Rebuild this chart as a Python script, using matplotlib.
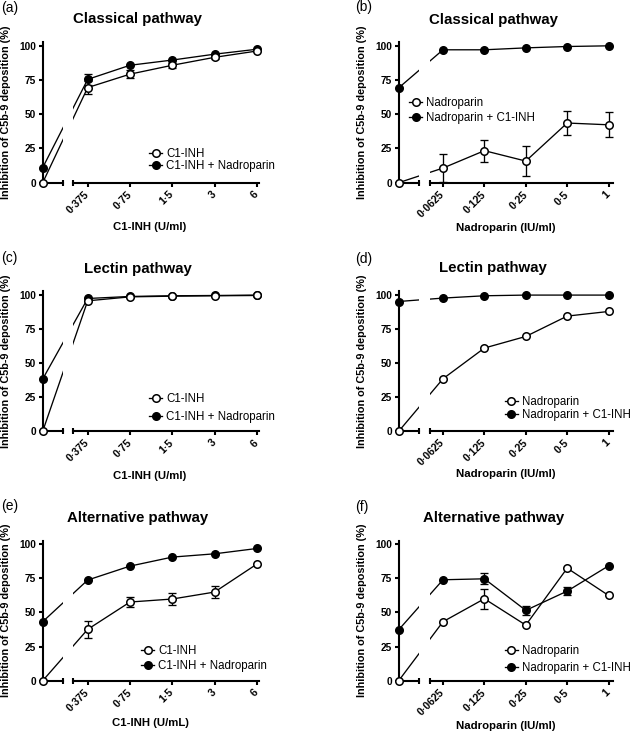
import numpy as np
import matplotlib
matplotlib.use('Agg')
from matplotlib import pyplot as plt
from matplotlib.lines import Line2D
from matplotlib.transforms import ScaledTranslation

plt.rcParams['font.family'] = ['Liberation Sans', 'DejaVu Sans']

W, H, DPI = 633, 732, 100

# x tick labels (the first value of every series is the 0 dose)
C1INH_TICKS = ['0·375', '0·75', '1·5', '3', '6']
NADRO_TICKS = ['0·0625', '0·125', '0·25', '0·5', '1']

# (a) classical pathway, C1-INH titration
a_open = [0, 69.5, 79.3, 85.8, 91.6, 96.2]
a_open_err = [0, 5, 3, 2, 1, 0]
a_fill = [11, 75.5, 85.8, 89.6, 93.9, 97.5]
a_fill_err = [0, 4, 0, 0, 0, 0]

# (b) classical pathway, nadroparin titration
b_open = [0, 10.7, 23.4, 15.8, 43.6, 42.3]
b_open_err = [0, 10.5, 8, 11, 9, 9]
b_fill = [69.3, 97.1, 97.1, 98.5, 99.5, 100]
b_fill_err = [0, 0, 0, 0, 0, 0]

# (c) lectin pathway, C1-INH titration
c_open = [0, 95.6, 98.5, 99, 99.3, 99.5]
c_open_err = [0, 0, 0, 0, 0, 0]
c_fill = [38.3, 97.3, 98.8, 99.3, 99.5, 99.8]
c_fill_err = [0, 0, 0, 0, 0, 0]

# (d) lectin pathway, nadroparin titration
d_open = [0, 38.5, 61, 69.5, 84.4, 87.8]
d_open_err = [0, 0, 0, 0, 0, 0]
d_fill = [95.1, 97.6, 99.3, 99.8, 99.8, 99.8]
d_fill_err = [0, 0, 0, 0, 0, 0]

# (e) alternative pathway, C1-INH titration
e_open = [0, 37.6, 57.6, 59.8, 64.9, 85.4]
e_open_err = [0, 6, 4, 4.6, 4.6, 0]
e_fill = [43.2, 73.7, 83.9, 90.5, 92.9, 96.8]
e_fill_err = [0, 0, 0, 0, 0, 0]

# (f) alternative pathway, nadroparin titration
f_open = [0, 43.2, 60, 40.7, 82.4, 62.4]
f_open_err = [0, 0, 7.3, 0, 0, 0]
f_fill = [37.3, 73.9, 74.6, 51.5, 65.6, 84.1]
f_fill_err = [0, 0, 3.9, 3.3, 3, 0]

# layout in pixels
ROWS = [(42.4, 182.7), (291.4, 431.3), (540.7, 680.7)]
COLS = [dict(yaxis=42.7, seg1=63.0, seg2=72.7, first=87.7, unit=42.3, end=258.5),
        dict(yaxis=398.7, seg1=419.3, seg2=430.3, first=443.0, unit=41.4, end=613.0)]

LW = 0.95
SPW = 1.5
MS = 5.4

fig = plt.figure(figsize=(W / DPI, H / DPI), dpi=DPI)


def ftext(x, y, s, **kw):
    fig.text(x / W, 1 - y / H, s, **kw)


def series(axl, axr, x, y, err, face, z):
    y = np.asarray(y, float)
    err = np.asarray(err, float)
    for ax in (axl, axr):
        ax.plot(x, y, color='k', lw=LW, zorder=z)
    m = err > 0
    if m.any():
        eb = axr.errorbar(x[m], y[m], yerr=err[m], fmt='none', ecolor='k',
                          elinewidth=LW, capsize=3.2, capthick=LW, zorder=z)
        for art in eb.get_children():
            art.set_clip_on(False)
    axl.plot(x[:1], y[:1], 'o', mfc=face, mec='k', ms=MS, mew=1.1,
             clip_on=False, zorder=z + 1)
    axr.plot(x[1:], y[1:], 'o', mfc=face, mec='k', ms=MS, mew=1.1,
             clip_on=False, zorder=z + 1)


def panel(row, col, letter, letter_xy, title, title_xy, xlabel, xlabel_xy,
          ticks, open_y, open_err, fill_y, fill_err, names, leg_xy, leg_pitch):
    g = COLS[col]
    top, bot = ROWS[row]
    u = g['unit']
    off = (g['first'] - g['yaxis']) / u
    x = np.concatenate([[0.0], off + np.arange(len(ticks))])

    axl = fig.add_axes([g['yaxis'] / W, 1 - bot / H,
                        (g['seg1'] - g['yaxis']) / W, (bot - top) / H])
    axr = fig.add_axes([g['seg2'] / W, 1 - bot / H,
                        (g['end'] - g['seg2']) / W, (bot - top) / H])
    axl.set_xlim(0, (g['seg1'] - g['yaxis']) / u)
    axr.set_xlim((g['seg2'] - g['yaxis']) / u, (g['end'] - g['yaxis']) / u)
    for ax in (axl, axr):
        ax.set_ylim(0, 102.5)
        ax.patch.set_visible(False)
        for s in ('top', 'right'):
            ax.spines[s].set_visible(False)
        ax.spines['bottom'].set_linewidth(SPW)
    axr.spines['left'].set_visible(False)
    axl.spines['left'].set_linewidth(SPW)

    axl.set_yticks([0, 25, 50, 75, 100])
    axl.set_yticklabels(['0', '25', '50', '75', '100'], fontsize=7.3,
                        fontweight='bold')
    axl.tick_params(axis='y', direction='out', length=3.2, width=SPW, pad=1.5)
    axl.set_xticks([])
    axl.set_xticks([axl.get_xlim()[1]], minor=True)
    axl.tick_params(axis='x', which='minor', direction='inout', length=5,
                    width=SPW, labelbottom=False)

    axr.set_yticks([])
    axr.set_xticks(x[1:])
    axr.set_xticklabels(ticks, fontsize=7.6, fontweight='bold', rotation=45,
                        ha='right', va='center', rotation_mode='anchor')
    shift = ScaledTranslation(0.03, 0, fig.dpi_scale_trans)
    for lab in axr.get_xticklabels():
        lab.set_transform(lab.get_transform() + shift)
    axr.tick_params(axis='x', direction='out', length=3.2, width=SPW, pad=4)
    axr.set_xticks([axr.get_xlim()[0]], minor=True)
    axr.tick_params(axis='x', which='minor', direction='inout', length=5,
                    width=SPW, labelbottom=False)

    series(axl, axr, x, fill_y, fill_err, 'k', 3)
    series(axl, axr, x, open_y, open_err, 'white', 5)

    handles = [Line2D([], [], color='k', lw=LW, marker='o', mfc='white',
                      mec='k', ms=MS, mew=1.1),
               Line2D([], [], color='k', lw=LW, marker='o', mfc='k',
                      mec='k', ms=MS, mew=1.1)]
    fs = 8.3
    fs_px = fs * DPI / 72
    axr.legend(handles, names, loc='center left',
               bbox_to_anchor=(leg_xy[0] / W, 1 - leg_xy[1] / H),
               bbox_transform=fig.transFigure, frameon=False, fontsize=fs,
               handlelength=1.15, handletextpad=0.35, borderpad=0,
               borderaxespad=0, labelspacing=(leg_pitch - 0.91 * fs_px) / fs_px)

    ftext(*letter_xy, letter, fontsize=10, ha='left', va='center')
    ftext(*title_xy, title, fontsize=10.8, fontweight='bold', ha='center',
          va='center')
    ftext(*xlabel_xy, xlabel, fontsize=8.2, fontweight='bold', ha='center',
          va='center')
    ftext(g['yaxis'] - 36.5, (top + bot) / 2, 'Inhibition of C5b-9 deposition (%)',
          fontsize=7.8, fontweight='bold', rotation=90, ha='center', va='center')


C1_NAMES = ['C1-INH', 'C1-INH + Nadroparin']
NA_NAMES = ['Nadroparin', 'Nadroparin + C1-INH']

panel(0, 0, '(a)', (1.2, 7.7), 'Classical pathway', (137.3, 19.5),
      'C1-INH (U/ml)', (150, 227), C1INH_TICKS, a_open, a_open_err,
      a_fill, a_fill_err, C1_NAMES, (149.2, 160.3), 10.7)
panel(0, 1, '(b)', (354.8, 6.7), 'Classical pathway', (493.5, 20),
      'Nadroparin (IU/ml)', (506, 228), NADRO_TICKS, b_open, b_open_err,
      b_fill, b_fill_err, NA_NAMES, (408.9, 110.7), 13.3)
panel(1, 0, '(c)', (1.2, 258.3), 'Lectin pathway', (137.8, 269),
      'C1-INH (U/ml)', (150, 475.7), C1INH_TICKS, c_open, c_open_err,
      c_fill, c_fill_err, C1_NAMES, (149.2, 408), 16.7)
panel(1, 1, '(d)', (354.8, 259.3), 'Lectin pathway', (493.2, 268.2),
      'Nadroparin (IU/ml)', (506, 474), NADRO_TICKS, d_open, d_open_err,
      d_fill, d_fill_err, NA_NAMES, (504.5, 408.7), 12)
panel(2, 0, '(e)', (1.2, 506), 'Alternative pathway', (137.5, 517.7),
      'C1-INH (U/mL)', (150, 723), C1INH_TICKS, e_open, e_open_err,
      e_fill, e_fill_err, C1_NAMES, (140.9, 658.3), 14)
panel(2, 1, '(f)', (354.8, 507), 'Alternative pathway', (493.5, 518.3),
      'Nadroparin (IU/ml)', (506, 726.3), NADRO_TICKS, f_open, f_open_err,
      f_fill, f_fill_err, NA_NAMES, (504.5, 659.7), 15.3)

fig.savefig('out.png', dpi=DPI)
